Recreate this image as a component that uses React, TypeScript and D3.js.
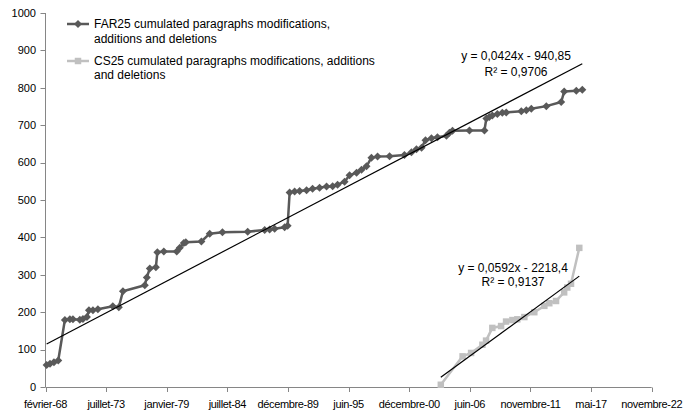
import React from "react";
import * as d3 from "d3";

// FAR25: cumulated paragraph changes (date, count)
const farDates = [
  "1968-03-10", "1968-06-28", "1968-11-05", "1969-03-27", "1969-11-01", "1970-04-15", "1970-07-25",
  "1971-03-10", "1971-06-20", "1971-10-30", "1972-01-05", "1972-05-15", "1972-10-25", "1974-03-01",
  "1974-09-15", "1975-01-30", "1977-01-20", "1977-03-28", "1977-07-05", "1978-01-20", "1978-03-10",
  "1978-10-10", "1979-12-10", "1980-03-20", "1980-07-30", "1980-10-05", "1982-03-01", "1982-12-01",
  "1984-01-25", "1986-05-08", "1987-11-20", "1988-05-01", "1988-10-12", "1989-09-08", "1989-12-15",
  "1990-02-20", "1990-08-03", "1991-01-15", "1991-09-01", "1992-03-18", "1992-11-03", "1993-06-22",
  "1994-01-08", "1994-06-20", "1995-02-05", "1995-07-20", "1996-03-08", "1996-08-18", "1997-01-30",
  "1997-07-12", "1998-01-30", "1999-03-01", "2000-07-05", "2001-02-20", "2001-08-05", "2002-01-20",
  "2002-05-30", "2002-12-12", "2003-06-28", "2004-04-20", "2004-07-28", "2004-11-05", "2006-05-18",
  "2007-09-25", "2007-11-28", "2008-03-05", "2008-06-12", "2008-11-25", "2009-05-08", "2009-09-15",
  "2011-01-25", "2011-07-08", "2011-12-20", "2013-04-28", "2014-09-01", "2014-12-08", "2016-01-12",
  "2016-07-28",
];
const farValues = [
  59, 62, 66, 71, 179, 181, 181,
  180, 182, 187, 205, 205, 208, 216,
  213, 256, 272, 293, 317, 320, 360,
  362, 362, 372, 385, 387, 389, 410,
  414, 415, 420, 421, 423, 427, 431,
  520, 523, 524, 526, 530, 533, 536,
  537, 541, 549, 566, 573, 581, 590,
  613, 616, 617, 620, 628, 636, 640,
  660, 665, 668, 672, 680, 685, 686,
  686, 718, 722, 726, 730, 733, 734,
  737, 740, 744, 751, 762, 790, 792,
  795,
];

// CS25: cumulated paragraph changes (date, count)
const csDates = [
  "2003-10-17", "2005-10-05", "2006-07-12", "2007-07-20", "2007-11-18", "2008-06-12", "2009-03-28",
  "2009-09-08", "2010-04-05", "2010-09-15", "2011-05-05", "2012-03-28", "2013-02-22", "2013-08-05",
  "2014-03-15", "2014-12-08", "2015-03-20", "2015-07-22", "2016-04-20",
];
const csValues = [
  6, 82, 91, 113, 124, 158, 163,
  175, 179, 181, 187, 200, 217, 224,
  230, 253, 266, 276, 372,
];

// Linear trends, x in spreadsheet day serials
const farTrend = { slope: 0.0424, intercept: -940.85, r2: "0,9706" };
const csTrend = { slope: 0.0592, intercept: -2218.4, r2: "0,9137" };

const xTickLabels = [
  "février-68", "juillet-73", "janvier-79", "juillet-84", "décembre-89", "juin-95",
  "décembre-00", "juin-06", "novembre-11", "mai-17", "novembre-22",
];
const yTicks = [0, 100, 200, 300, 400, 500, 600, 700, 800, 900, 1000];

const legendFar = ["FAR25 cumulated paragraphs modifications,", "additions and deletions"];
const legendCs = ["CS25 cumulated paragraphs modifications, additions", "and deletions"];

const X_MIN = 24869; // 1 Feb 1968
const X_STEP = 2000;

const parse = d3.utcParse("%Y-%m-%d");
const EPOCH = Date.UTC(1899, 11, 30);
const toSerial = (s: string) => (parse(s)!.getTime() - EPOCH) / 86400000;

const W = 690;
const H = 412;
const FONT = "'Liberation Sans', Arial, sans-serif";

export default function App() {
  const x = d3.scaleLinear().domain([X_MIN, X_MIN + X_STEP * 10]).range([45.5, 651.7]);
  const y = d3.scaleLinear().domain([0, 1000]).range([387, 13]);

  const far = farDates.map((d, i) => ({ x: toSerial(d), y: farValues[i] }));
  const cs = csDates.map((d, i) => ({ x: toSerial(d), y: csValues[i] }));

  const line = d3
    .line<{ x: number; y: number }>()
    .x((d) => x(d.x))
    .y((d) => y(d.y));

  const trendPts = (pts: { x: number }[], t: { slope: number; intercept: number }) => {
    const [a, b] = d3.extent(pts, (p) => p.x) as [number, number];
    return [a, b].map((v) => ({ x: v, y: t.slope * v + t.intercept }));
  };

  const diamond = d3.symbol(d3.symbolSquare, 32)()!;
  const square = d3.symbol(d3.symbolSquare, 42)()!;

  const farColor = "#595959";
  const csColor = "#c0c0c0";
  const axisColor = "#868686";

  const xTicks = xTickLabels.map((_, i) => X_MIN + i * X_STEP);

  return (
    <div style={{ position: "absolute", left: 0, top: 0 }}>
      <svg width={W} height={H} style={{ display: "block", background: "#fff" }} fontFamily={FONT}>
        {/* y axis */}
        <line x1={45.5} x2={45.5} y1={y(1000)} y2={y(0)} stroke={axisColor} />
        {yTicks.map((t) => (
          <g key={t}>
            <line x1={40.5} x2={45.5} y1={Math.round(y(t)) + 0.5} y2={Math.round(y(t)) + 0.5} stroke={axisColor} />
            <text x={36} y={y(t)} dy="0.35em" textAnchor="end" fontSize={11} fill="#000">
              {t}
            </text>
          </g>
        ))}
        {/* x axis */}
        <line x1={x(X_MIN)} x2={x(X_MIN + X_STEP * 10)} y1={387.5} y2={387.5} stroke={axisColor} />
        {xTicks.map((t, i) => (
          <g key={t}>
            <line x1={Math.round(x(t)) + 0.5} x2={Math.round(x(t)) + 0.5} y1={387.5} y2={392} stroke={axisColor} />
            <text x={x(t)} y={404} dy="0.35em" textAnchor="middle" fontSize={11} letterSpacing={-0.35} fill="#000">
              {xTickLabels[i]}
            </text>
          </g>
        ))}

        {/* CS25 series */}
        <path d={line(cs)!} fill="none" stroke={csColor} strokeWidth={2.5} strokeLinejoin="round" />
        {cs.map((p, i) => (
          <path key={i} d={square} transform={`translate(${x(p.x)},${y(p.y)})`} fill={csColor} />
        ))}

        {/* FAR25 series */}
        <path d={line(far)!} fill="none" stroke={farColor} strokeWidth={2.5} strokeLinejoin="round" />
        {far.map((p, i) => (
          <path key={i} d={diamond} transform={`translate(${x(p.x)},${y(p.y)}) rotate(45)`} fill={farColor} />
        ))}

        {/* trendlines */}
        <path d={line(trendPts(far, farTrend))!} stroke="#000" strokeWidth={1.2} fill="none" />
        <path d={line(trendPts(cs, csTrend))!} stroke="#000" strokeWidth={1.2} fill="none" />

        {/* trend equations */}
        <g fontSize={12} fill="#000" textAnchor="middle">
          <text x={516} y={56} dy="0.35em">{`y = 0,0424x - 940,85`}</text>
          <text x={516} y={72} dy="0.35em">{`R² = ${farTrend.r2}`}</text>
          <text x={513} y={268} dy="0.35em">{`y = 0,0592x - 2218,4`}</text>
          <text x={513} y={282} dy="0.35em">{`R² = ${csTrend.r2}`}</text>
        </g>

        {/* legend */}
        <g fontSize={12} fill="#000">
          <line x1={67} x2={89} y1={24} y2={24} stroke={farColor} strokeWidth={2.5} />
          <path d={diamond} transform="translate(78,24) rotate(45)" fill={farColor} />
          <text x={94} y={24} dy="0.35em">{legendFar[0]}</text>
          <text x={94} y={39} dy="0.35em">{legendFar[1]}</text>
          <line x1={67} x2={89} y1={61} y2={61} stroke={csColor} strokeWidth={2.5} />
          <path d={square} transform="translate(78,61)" fill={csColor} />
          <text x={94} y={61} dy="0.35em">{legendCs[0]}</text>
          <text x={94} y={75} dy="0.35em">{legendCs[1]}</text>
        </g>
      </svg>
    </div>
  );
}
